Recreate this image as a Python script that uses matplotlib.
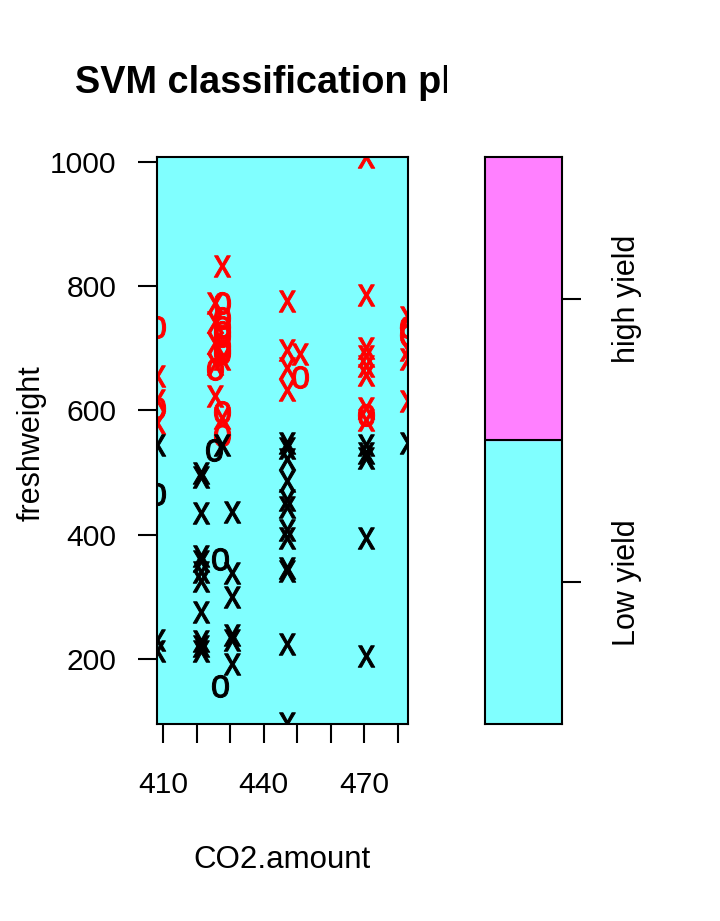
import numpy as np
import matplotlib
matplotlib.use('Agg')
import matplotlib.pyplot as plt
from matplotlib.textpath import TextPath
from matplotlib.font_manager import FontProperties
from matplotlib.transforms import Affine2D

plt.rcParams['font.family'] = ['Liberation Sans', 'DejaVu Sans']

# high yield, support vectors (red x)
high_sv_co2 = [408.2, 408.2, 408.2, 427.6, 425.6, 425.6, 425.6, 425.6, 425.6, 427.6, 427.6,
               446.9, 446.9, 446.9, 446.9, 450.9,
               470.4, 470.4, 470.4, 470.4, 470.4, 470.4, 470.4, 470.4,
               482.9, 482.9, 482.9, 482.9]
high_sv_fw = [655, 616, 580, 833, 773, 743, 709, 674, 623, 683, 588,
              776, 698, 668, 633, 690,
              1008, 786, 700, 687, 671, 657, 604, 585,
              751, 698, 682, 615]

# high yield, other points (red o)
high_co2 = [408.2, 408.2, 427.6, 427.6, 427.6, 427.6, 427.6, 427.6, 427.6, 427.6,
            425.6, 427.6, 427.6, 450.9, 470.4, 482.9, 482.9]
high_fw = [735, 604, 773, 749, 735, 727, 719, 703, 698, 693,
           667, 598, 561, 653, 593, 735, 722]

# low yield, support vectors (black x)
low_sv_co2 = [408.2, 408.2, 408.2,
              421.3, 421.3, 421.3, 421.3, 421.3, 421.3, 421.3, 421.3, 421.3, 421.3, 421.3,
              427.6,
              430.7, 430.7, 430.7, 430.7, 430.7, 430.7,
              446.9, 446.9, 446.9, 446.9, 446.9, 446.9, 446.9, 446.9, 446.9, 446.9, 446.9, 446.9,
              470.4, 470.4, 470.4, 470.4, 470.4,
              482.9]
low_sv_fw = [545, 230, 212,
             499, 492, 435, 366, 357, 340, 326, 276, 228, 220, 212,
             545,
             437, 338, 300, 239, 231, 191,
             547, 540, 521, 486, 456, 445, 408, 395, 347, 341, 224, 96,
             545, 532, 524, 395, 204,
             547]

# low yield, other points (black o)
low_co2 = [408.2, 425.3, 427.0, 427.0]
low_fw = [465, 537, 360, 156]

classes = ['Low yield', 'high yield']
class_cols = ['#80FFFF', '#FF80FF']

x_ticks = [410, 420, 430, 440, 450, 460, 470, 480]
x_labels = ['410', '', '', '440', '', '', '470', '']
y_ticks = [200, 400, 600, 800, 1000]


def glyph_marker(ch):
    tp = TextPath((0, 0), ch, size=1, prop=FontProperties(family='Liberation Sans'))
    ext = tp.get_extents()
    tr = Affine2D().translate(-(ext.x0 + ext.x1) / 2, -(ext.y0 + ext.y1) / 2).scale(0.85, 1.0)
    p = tr.transform_path(tp)
    return p, np.abs(p.vertices).max()


em_pt = 28 * 0.72 * 1.45
x_path, x_m = glyph_marker('x')
o_path, o_m = glyph_marker('o')

fig = plt.figure(figsize=(7.2, 9.21), dpi=100)

ax = fig.add_axes([157 / 720, 197 / 921, 250.5 / 720, 567 / 921])
ax.set_facecolor(class_cols[0])
for xs, ys, path, m, col in [(high_sv_co2, high_sv_fw, x_path, x_m, 'red'),
                             (high_co2, high_fw, o_path, o_m, 'red'),
                             (low_sv_co2, low_sv_fw, x_path, x_m, 'black'),
                             (low_co2, low_fw, o_path, o_m, 'black')]:
    ax.plot(xs, ys, linestyle='none', marker=path, ms=em_pt * 2 * m,
            mfc=col, mec=col, mew=0.7)
ax.set_xlim(408.2, 482.9)
ax.set_ylim(95, 1008)
ax.set_xticks(x_ticks)
ax.set_xticklabels(x_labels)
ax.set_yticks(y_ticks)
ax.tick_params(axis='both', direction='out', length=14, width=1.5, labelsize=21.6)
ax.tick_params(axis='y', pad=15)
ax.tick_params(axis='x', pad=20)
for s in ax.spines.values():
    s.set_linewidth(1.5)

fig.text(32 / 720, 1 - 443 / 921, 'freshweight', rotation=90, ha='center', va='center', fontsize=22)
fig.text(282 / 720, 1 - 860 / 921, 'CO2.amount', ha='center', va='center', fontsize=22.5)

# key
ax2 = fig.add_axes([485 / 720, 197 / 921, 77 / 720, 567 / 921])
ax2.axhspan(0, 1, color=class_cols[0])
ax2.axhspan(1, 2, color=class_cols[1])
ax2.axhline(1, color='black', lw=1.5)
ax2.set_xlim(0, 1)
ax2.set_ylim(0, 2)
ax2.set_xticks([])
ax2.yaxis.tick_right()
ax2.set_yticks([0.5, 1.5])
ax2.set_yticklabels(classes)
ax2.tick_params(axis='y', direction='out', length=14, width=1.5, labelsize=22, pad=22, labelrotation=90)
for t in ax2.get_yticklabels():
    t.set_verticalalignment('center')
for s in ax2.spines.values():
    s.set_linewidth(1.5)

# title, clipped like the original
tax = fig.add_axes([0, 0.8, 447 / 720, 0.2])
tax.axis('off')
tax.text(75 / 720, 1 - 93 / 921, 'SVM classification plot', transform=fig.transFigure,
         fontsize=27.3, fontweight='bold', ha='left', va='baseline', clip_on=True)

fig.savefig('out.png', dpi=100)
